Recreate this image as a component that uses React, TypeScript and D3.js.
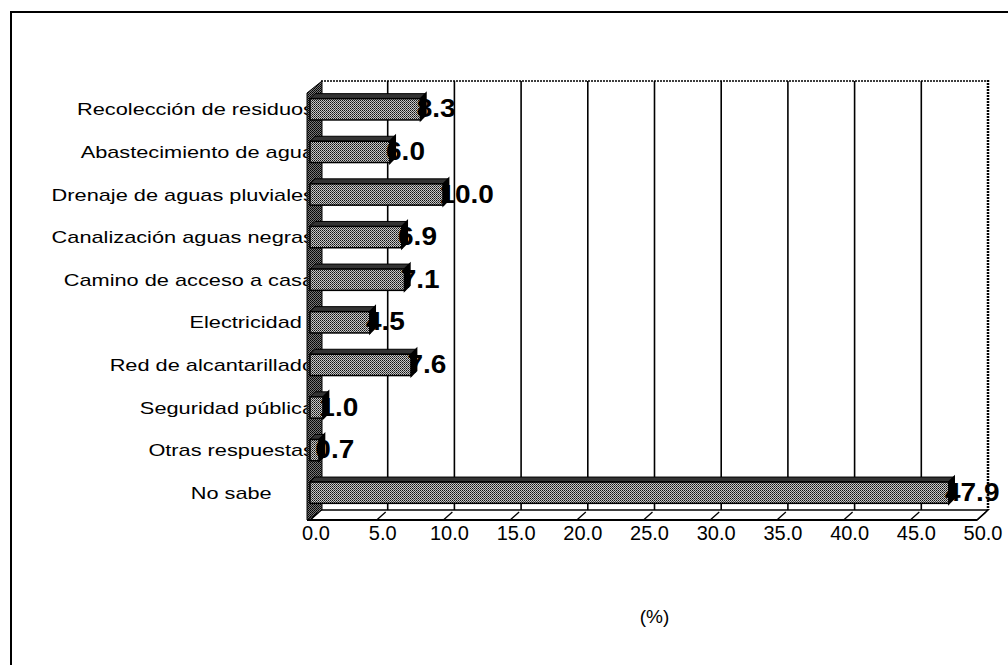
import { scaleBand, scaleLinear } from "d3";
import React, { memo, useMemo } from "react";

// labels keep the trailing blanks they had in the source chart
const categories = [
	"Recolección de residuos",
	"Abastecimiento de agua",
	"Drenaje de aguas pluviales",
	"Canalización aguas negras",
	"Camino de acceso a casa",
	"Electricidad\u00a0\u00a0",
	"Red de alcantarillado",
	"Seguridad pública",
	"Otras respuestas",
	"No sabe\u00a0\u00a0\u00a0\u00a0\u00a0\u00a0\u00a0",
];
const values = [8.3, 6.0, 10.0, 6.9, 7.1, 4.5, 7.6, 1.0, 0.7, 47.9];
const xTicks = [0, 5, 10, 15, 20, 25, 30, 35, 40, 45, 50];
const xLabel = "(%)";

const W = 1008;
const H = 665;
// depth of the 3d box
const DX = 11;
const DY = 10;
const FONT = "Liberation Sans, Arial, sans-serif";

const BarChart3D: React.FC<{
	margin?: { top: number; bottom: number; left: number; right: number };
}> = ({ margin = { top: 81, bottom: 155, left: 321, right: 20 } }) => {
	const backBottom = H - margin.bottom; // 510
	const backRight = W - margin.right; // 988

	// back plane scale, front plane is shifted by DX
	const xBack = useMemo(
		() => scaleLinear().domain([0, 50]).range([margin.left, backRight]),
		[margin.left, backRight],
	);
	const xFront = (v: number) => xBack(v) - DX;

	const yScale = useMemo(
		() =>
			scaleBand()
				.domain(categories)
				.range([margin.top + 7, backBottom + 4])
				.paddingInner(0.5)
				.paddingOuter(0.25),
		[margin.top, backBottom],
	);

	const frontBottom = backBottom + DY;
	const x0 = xFront(0);
	const bd = 5; // bar depth

	return (
		<svg width={W} height={H} style={{ display: "block" }}>
			<defs>
				<pattern id="barFill" width={2} height={2} patternUnits="userSpaceOnUse">
					<rect width={2} height={2} fill="#c8c8c8" />
					<rect width={1} height={1} fill="#111" />
					<rect x={1} y={1} width={1} height={1} fill="#444" />
				</pattern>
				<pattern id="wallFill" width={2} height={2} patternUnits="userSpaceOnUse">
					<rect width={2} height={2} fill="#777" />
					<rect width={1} height={1} fill="#000" />
					<rect x={1} y={1} width={1} height={1} fill="#111" />
				</pattern>
			</defs>
			<rect width={W} height={H} fill="#fff" />
			{/* outer frame, runs past the picture */}
			<rect x={11} y={12} width={W + 20} height={H + 20} fill="none" stroke="#000" strokeWidth={2} />

			{/* back wall */}
			<rect
				x={margin.left}
				y={margin.top}
				width={backRight - margin.left}
				height={backBottom - margin.top}
				fill="#fff"
			/>
			<line x1={margin.left} x2={backRight} y1={margin.top} y2={margin.top} stroke="#000" strokeWidth={1.5} strokeDasharray="2 1" />
			<line x1={backRight} x2={backRight} y1={margin.top - 1} y2={backBottom} stroke="#000" strokeWidth={2.5} strokeDasharray="2 1" />
			{xTicks.slice(1, -1).map((t) => (
				<line key={t} x1={xBack(t)} x2={xBack(t)} y1={margin.top} y2={backBottom} stroke="#000" strokeWidth={1.6} />
			))}

			{/* floor */}
			<polygon
				points={`${x0},${frontBottom} ${margin.left},${backBottom} ${backRight},${backBottom} ${xFront(50)},${frontBottom}`}
				fill="#fff"
				stroke="#000"
				strokeWidth={1.5}
			/>
			{xTicks.map((t) => (
				<line key={t} x1={xFront(t)} x2={xBack(t) - 2} y1={frontBottom} y2={backBottom + 2} stroke="#000" strokeWidth={1.3} />
			))}
			<line x1={x0 - 3} x2={xFront(50)} y1={frontBottom} y2={frontBottom} stroke="#000" strokeWidth={2} />

			{/* category labels, wall drawn over them */}
			<g fontFamily={FONT} fontSize={17} fill="#000">
				{categories.map((c) => (
					<text
						key={c}
						transform={`translate(${x0 + 4}, ${(yScale(c) || 0) + yScale.bandwidth() / 2 + 6}) scale(1.28,1)`}
						textAnchor="end"
						style={{ whiteSpace: "pre" }}>
						{c}
					</text>
				))}
			</g>

			{/* left wall */}
			<polygon
				points={`${margin.left + 1},${margin.top} ${x0 - 3},${margin.top + DY + 2} ${x0 - 3},${frontBottom} ${margin.left + 1},${backBottom}`}
				fill="url(#wallFill)"
				stroke="#000"
				strokeWidth={1}
			/>

			{/* bars */}
			{values.map((v, i) => {
				const y = yScale(categories[i]) || 0;
				const h = yScale.bandwidth();
				const x1 = xFront(v);
				return (
					<g key={i}>
						<polygon
							points={`${x0},${y} ${x0 + bd},${y - bd} ${x1 + bd},${y - bd} ${x1},${y}`}
							fill="#333"
							stroke="#000"
						/>
						<rect x={x0} y={y} width={x1 - x0} height={h} fill="url(#barFill)" stroke="#000" strokeWidth={1.5} />
						<polygon
							points={`${x1},${y} ${x1 + bd},${y - bd} ${x1 + bd},${y + h - bd} ${x1},${y + h}`}
							fill="#000"
							stroke="#000"
							strokeWidth={2}
						/>
					</g>
				);
			})}

			{/* value labels */}
			<g fontFamily={FONT} fontSize={25} fontWeight="bold" fill="#000">
				{values.map((v, i) => (
					<text
						key={i}
						transform={`translate(${xFront(v) - 4}, ${(yScale(categories[i]) || 0) + yScale.bandwidth() / 2 + 8}) scale(1.12,1)`}>
						{v.toFixed(1)}
					</text>
				))}
			</g>

			{/* x tick labels */}
			<g fontFamily={FONT} fontSize={20} fill="#000">
				{xTicks.map((t) => (
					<text key={t} x={xFront(t) + 6} y={frontBottom + 20} textAnchor="middle">
						{t.toFixed(1)}
					</text>
				))}
			</g>
			<text x={xBack(25)} y={623} textAnchor="middle" fontFamily={FONT} fontSize={19}>
				{xLabel}
			</text>
		</svg>
	);
};

const App: React.FC = () => (
	<div style={{ position: "absolute", left: 0, top: 0 }}>
		<BarChart3D />
	</div>
);

export default memo(App);
